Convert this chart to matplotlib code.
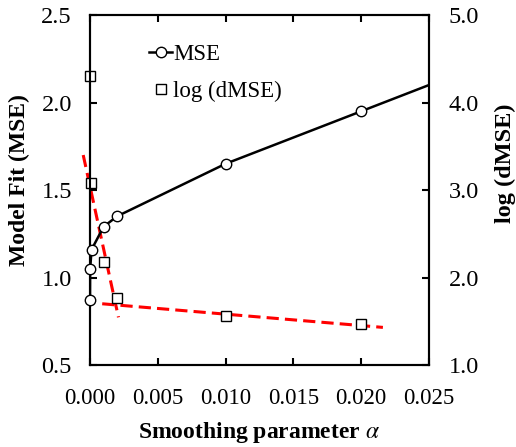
import matplotlib.pyplot as plt
from matplotlib.lines import Line2D

# MSE series (left axis); last point lies past the x-limit, only the line shows
alpha_mse = [0.0, 0.00001, 0.00012, 0.001, 0.002, 0.01, 0.02, 0.03]
mse = [0.87, 1.05, 1.16, 1.29, 1.35, 1.65, 1.95, 2.25]

# log(dMSE) series (right axis)
alpha_dmse = [0.0, 0.00005, 0.001, 0.002, 0.01, 0.02]
log_dmse = [4.30, 3.08, 2.18, 1.77, 1.56, 1.47]

# red dashed trend lines (right axis)
trend1_x = [-0.0005, 0.0021]
trend1_y = [3.40, 1.545]
trend2_x = [0.0009, 0.0216]
trend2_y = [1.70, 1.43]

xticks = [0.0, 0.005, 0.010, 0.015, 0.020, 0.025]
yticks_left = [0.5, 1.0, 1.5, 2.0, 2.5]
yticks_right = [1.0, 2.0, 3.0, 4.0, 5.0]

plt.rcParams['font.family'] = ['Liberation Serif', 'DejaVu Serif']
plt.rcParams['mathtext.fontset'] = 'stix'
fs = 16.5
fs_y = 17.5

fig = plt.figure(figsize=(5.16, 4.47), dpi=100)
ax = fig.add_axes([0.1744, 0.1834, 0.657, 0.783])
ax2 = ax.twinx()
# keep the MSE axis on top so its markers cover the squares
ax.set_zorder(ax2.get_zorder() + 1)
ax.patch.set_visible(False)

# line clipped at the frame, markers (inside the range) drawn over the spine
n_in = sum(1 for a in alpha_mse if a <= 0.025)
ax.plot(alpha_mse, mse, color='black', lw=1.8, zorder=2)
ax.plot(alpha_mse[:n_in], mse[:n_in], ls='none', marker='o', ms=7.5,
        mfc='white', mec='black', mew=1.0, zorder=4, clip_on=False)

ax2.plot(trend1_x, trend1_y, color='#ff0000', lw=2.2, dashes=(4, 2), zorder=3, clip_on=False)
ax2.plot(trend2_x, trend2_y, color='#ff0000', lw=2.2, dashes=(4, 2), zorder=3)
ax2.plot(alpha_dmse, log_dmse, ls='none', marker='s', ms=6.5,
         mfc='white', mec='black', mew=1.0, zorder=4, clip_on=False)

ax.set_xlim(0, 0.025)
ax.set_ylim(0.5, 2.5)
ax2.set_ylim(1.0, 5.0)
ax.set_xticks(xticks)
ax.set_xticklabels([f'{v:.3f}' for v in xticks], fontsize=fs)
ax.set_yticks(yticks_left)
ax.set_yticklabels([f'{v:.1f}' for v in yticks_left], fontsize=fs_y)
ax2.set_yticks(yticks_right)
ax2.set_yticklabels([f'{v:.1f}' for v in yticks_right], fontsize=fs_y)

ax.tick_params(axis='x', direction='in', top=True, length=5, width=1.5, pad=16.5)
ax.tick_params(axis='y', direction='in', length=5, width=1.5, pad=13)
ax2.tick_params(axis='y', direction='in', length=5, width=1.5, pad=14)
for a in (ax, ax2):
    for s in a.spines.values():
        s.set_linewidth(1.5)

ax.set_xlabel(r'Smoothing parameter $\it{\alpha}$', fontsize=17, fontweight='bold', labelpad=8)
ax.set_ylabel('Model Fit (MSE)', fontsize=17, fontweight='bold')
ax2.set_ylabel('log (dMSE)', fontsize=17.5, fontweight='bold')
ax.yaxis.set_label_coords(-0.177, 0.529)
ax2.yaxis.set_label_coords(1.195, 0.577)

handles = [
    Line2D([], [], color='black', lw=1.8, marker='o', ms=7.5, mfc='white', mec='black', mew=1.0),
    Line2D([], [], ls='none', marker='s', ms=6.5, mfc='white', mec='black', mew=1.0),
]
ax.legend(handles, ['MSE', 'log (dMSE)'], loc='upper left', bbox_to_anchor=(0.141, 0.95),
          frameon=False, fontsize=fs, handlelength=1.0, handletextpad=0.05,
          borderpad=0, labelspacing=0.7)

fig.savefig('out.png', dpi=100)
